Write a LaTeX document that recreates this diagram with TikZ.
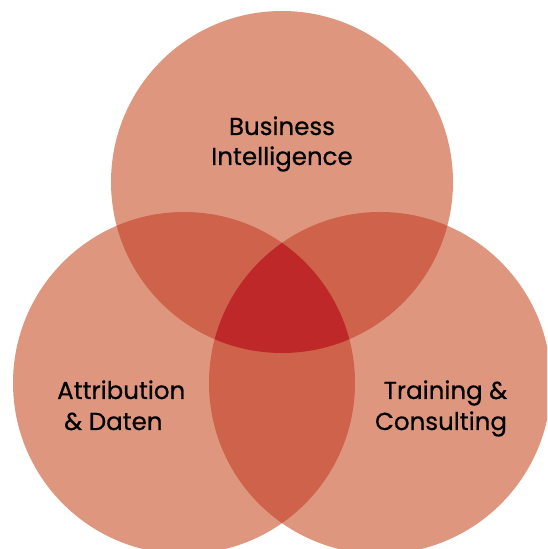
\documentclass[tikz,border=0pt]{standalone}
\usepackage{fontspec}
\setmainfont{Poppins}[FakeBold=0.6]
\definecolor{cone}{HTML}{DE977E}
\definecolor{ctwo}{HTML}{CE624A}
\definecolor{cthree}{HTML}{BF2829}
\begin{document}
\begin{tikzpicture}[x=1pt,y=1pt,
  lbl/.style={inner sep=0pt,font=\fontsize{24.5}{30}\selectfont,text=black}]
\useasboundingbox (0,0) rectangle (547,549);
\clip (0,0) rectangle (547,549);
\def\rr{171}
\coordinate (T) at (282,367);
\coordinate (L) at (184,166);
\coordinate (R) at (380,166);
% single
\fill[cone] (T) circle (\rr);
\fill[cone] (L) circle (\rr);
\fill[cone] (R) circle (\rr);
% pairs
\begin{scope}\clip (T) circle (\rr); \fill[ctwo] (L) circle (\rr);\end{scope}
\begin{scope}\clip (T) circle (\rr); \fill[ctwo] (R) circle (\rr);\end{scope}
\begin{scope}\clip (L) circle (\rr); \fill[ctwo] (R) circle (\rr);\end{scope}
% triple
\begin{scope}\clip (T) circle (\rr); \clip (L) circle (\rr); \fill[cthree] (R) circle (\rr);\end{scope}
% labels
\node[lbl,anchor=base] (bi1) at (282,414) {Business};
\node[lbl,anchor=base] (bi2) at (282,384) {Intelligence};
\node[lbl,anchor=base west] (ad1) at (57,150) {Attribution};
\node[lbl,anchor=base west] (ad2) at (64,119) {\& Daten};
\node[lbl,anchor=base] (tc1) at (445.5,150) {Training \&};
\node[lbl,anchor=base] (tc2) at (441,119) {Consulting};
\end{tikzpicture}
\end{document}
